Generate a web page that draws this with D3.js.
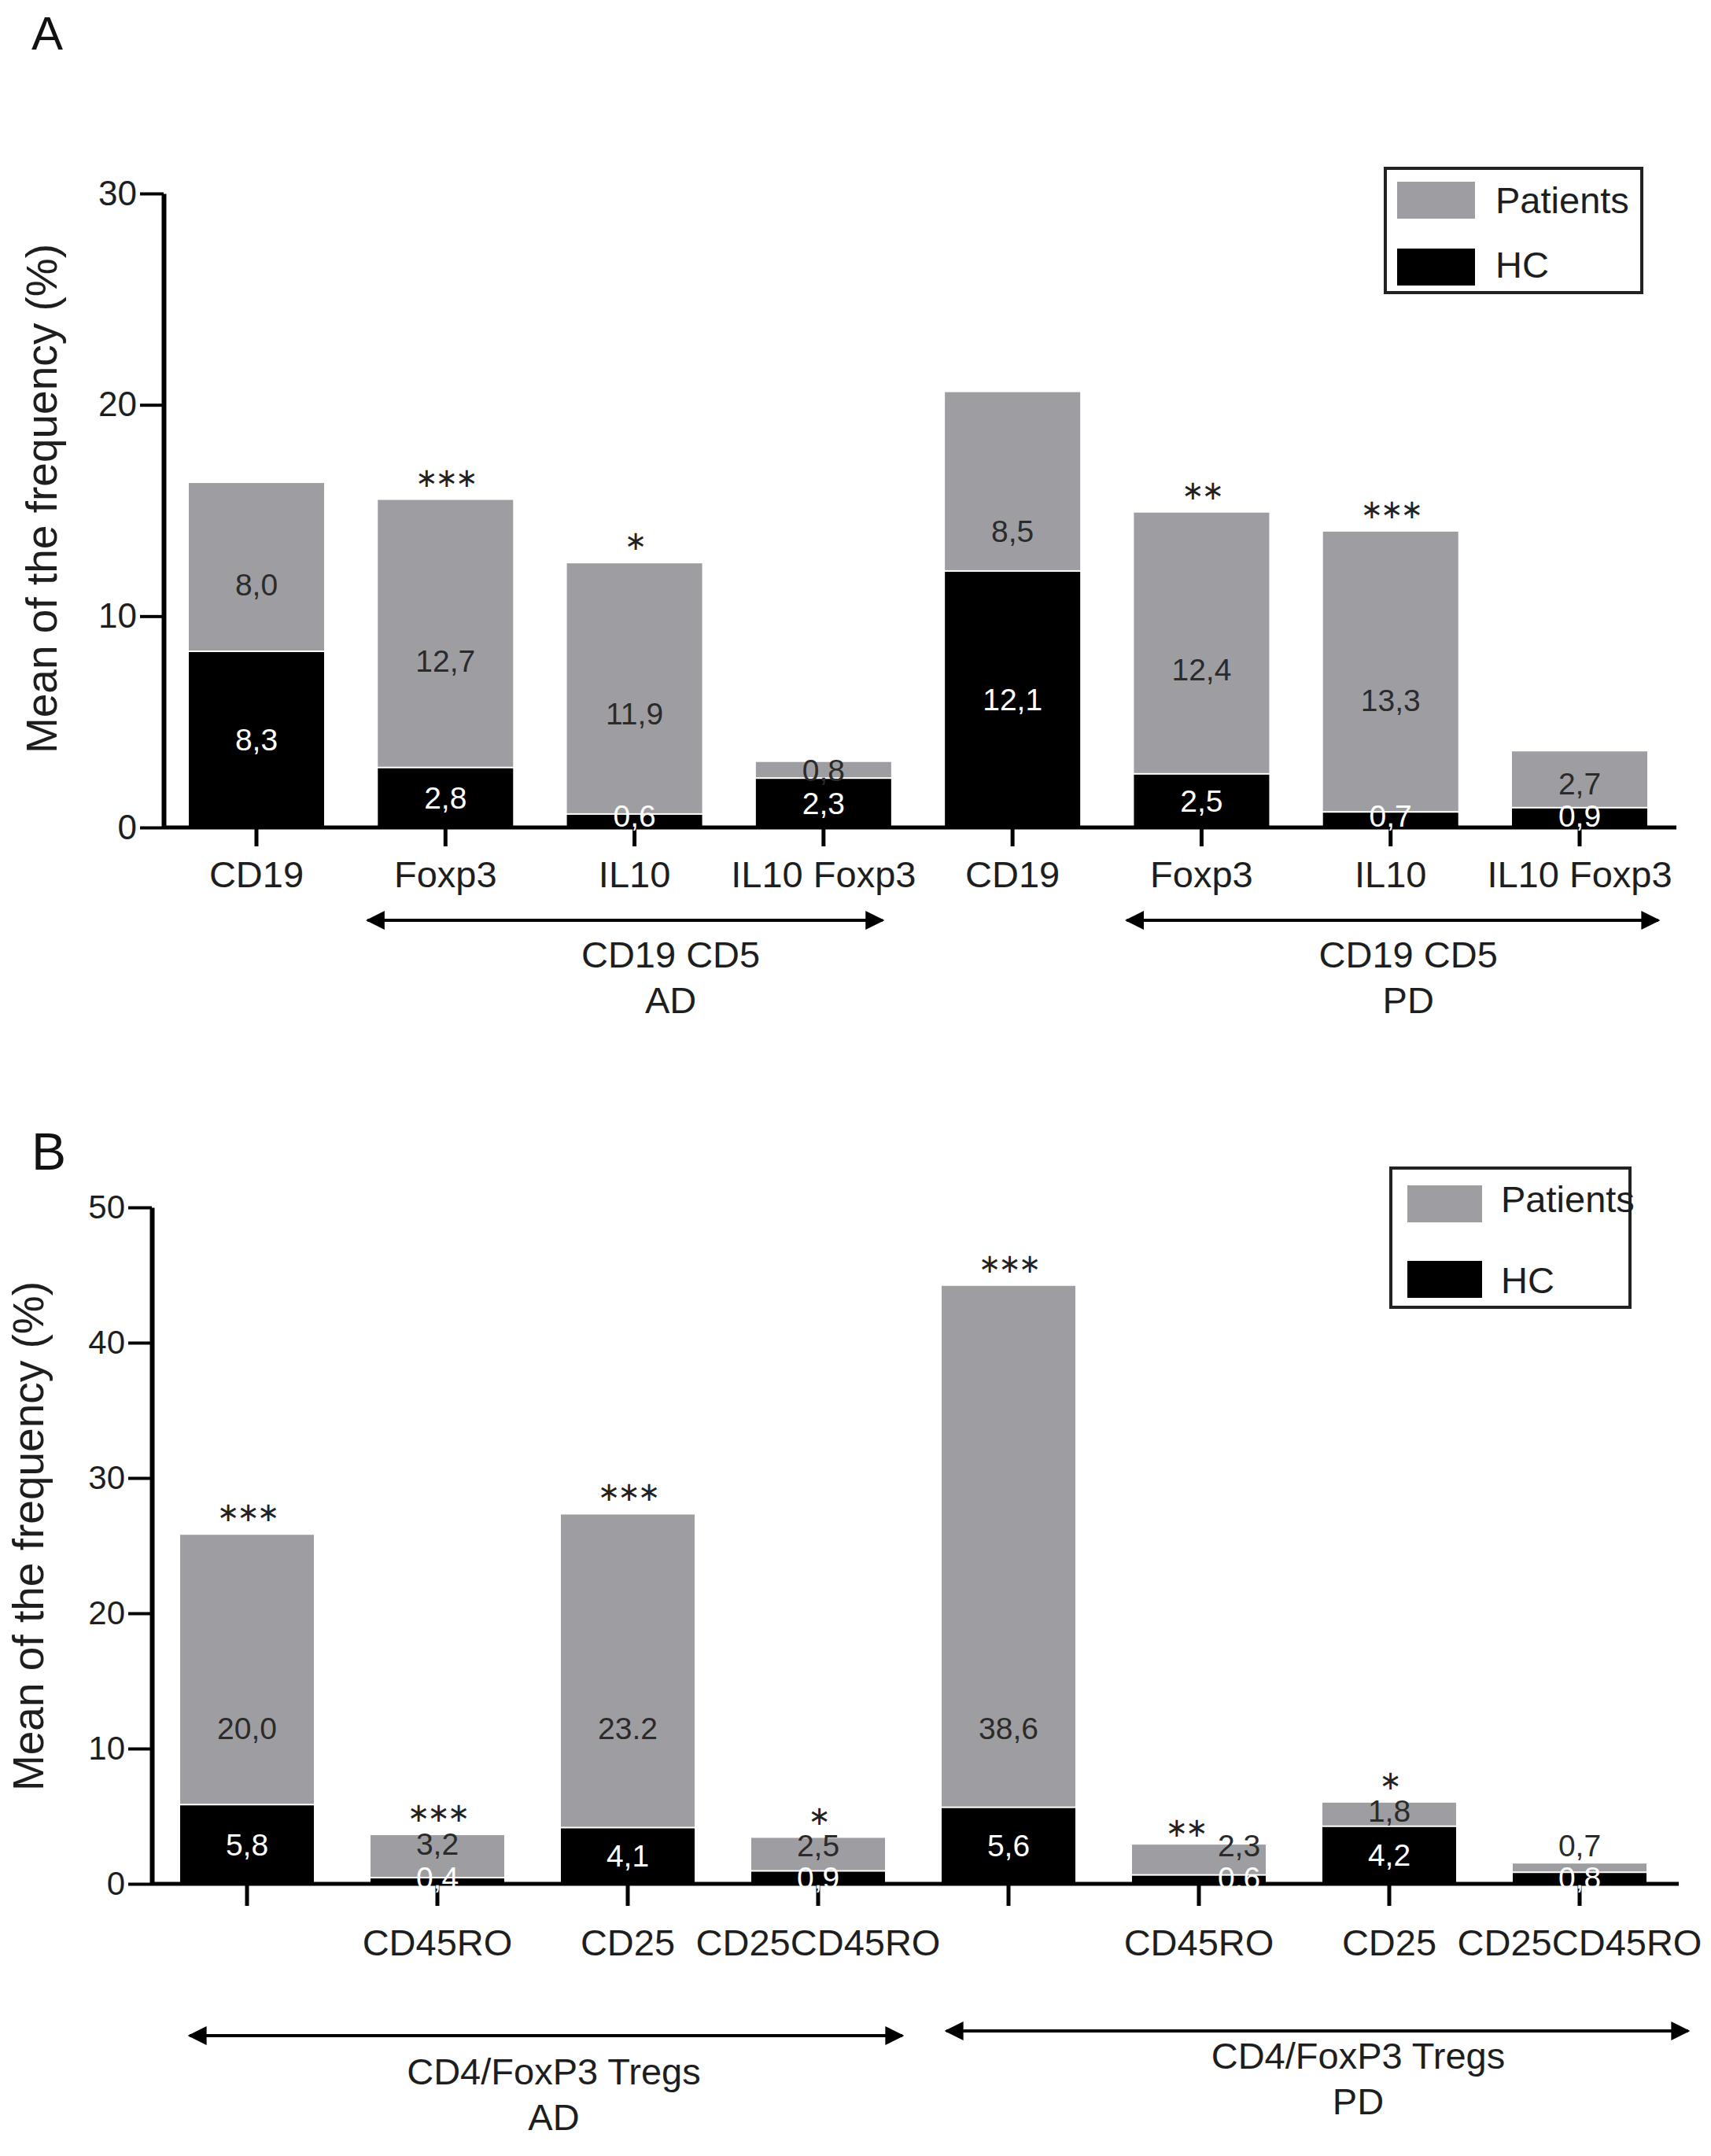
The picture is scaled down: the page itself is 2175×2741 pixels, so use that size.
<!DOCTYPE html>
<html>
<head>
<meta charset="utf-8">
<style>
  body { margin: 0; background: #fff; }
  text { font-family: "Liberation Sans", Arial, sans-serif; }
</style>
<script src="https://d3js.org/d3.v7.min.js"></script>
</head>
<body>
<svg width="2175" height="2741"></svg>
<script>

// ---- panel A data ----
var catsA = ["CD19", "Foxp3", "IL10", "IL10 Foxp3", "CD19", "Foxp3", "IL10", "IL10 Foxp3"];
var hcA = [8.3, 2.8, 0.6, 2.3, 12.1, 2.5, 0.7, 0.9];
var patA = [8.0, 12.7, 11.9, 0.8, 8.5, 12.4, 13.3, 2.7];
var patTextA = ["8,0", "12,7", "11,9", "0,8", "8,5", "12,4", "13,3", "2,7"];
var hcTextA = ["8,3", "2,8", "0,6", "2,3", "12,1", "2,5", "0,7", "0,9"];
var starsA = ["", "***", "*", "", "", "**", "***", ""];
var yTicksA = [0, 10, 20, 30];

// ---- panel B data ----
var catsB = ["", "CD45RO", "CD25", "CD25CD45RO", "", "CD45RO", "CD25", "CD25CD45RO"];
var hcB = [5.8, 0.4, 4.1, 0.9, 5.6, 0.6, 4.2, 0.8];
var patB = [20.0, 3.2, 23.2, 2.5, 38.6, 2.3, 1.8, 0.7];
var patTextB = ["20,0", "3,2", "23.2", "2,5", "38,6", "2,3", "1,8", "0,7"];
var hcTextB = ["5,8", "0,4", "4,1", "0,9", "5,6", "0,6", "4,2", "0,8"];
var starsB = ["***", "***", "***", "*", "***", "**", "*", ""];
var yTicksB = [0, 10, 20, 30, 40, 50];

var seriesNames = ["Patients", "HC"];
var grey = "#9e9ea2", black = "#000";

var svg = d3.select("svg");
svg.append("rect").attr("width", 2175).attr("height", 2741).attr("fill", "#fff");

var defs = svg.append("defs");
defs.append("marker").attr("id", "ah").attr("viewBox", "0 0 10 10")
  .attr("refX", 9).attr("refY", 5).attr("markerWidth", 6).attr("markerHeight", 7)
  .attr("markerUnits", "strokeWidth").attr("orient", "auto-start-reverse")
  .append("path").attr("d", "M0,0 L10,5 L0,10 z").attr("fill", "#000");

function drawPanel(p) {
  var g = svg.append("g");
  var n = p.cats.length;
  var step = (p.c7 - p.c0) / (n - 1);
  var x = d3.scaleBand().domain(d3.range(n))
    .range([p.c0 - step / 2, p.c7 + step / 2])
    .paddingInner(1 - p.bw / step).paddingOuter((1 - p.bw / step) / 2);
  var y = d3.scaleLinear().domain([0, p.yMax]).range([p.y0, p.yTop]);
  var bw = x.bandwidth();

  var rows = d3.range(n).map(function(i) {
    return {i: i, hc: p.hc[i], pat: p.pat[i], tot: p.hc[i] + p.pat[i]};
  });

  // label placement
  rows.forEach(function(d) {
    d.hcY = Math.min((y(0) + y(d.hc)) / 2, y(0) - p.smallLift);
    var h = y(d.hc) - y(d.tot);
    var room = d.hcY - 41;
    d.crowded = false;
    if (h >= 60) {
      d.patY = Math.min(y(Math.min(d.hc + 0.4 * d.pat, p.labelCap)), room);
    } else {
      var want = y(d.tot) + 11;
      d.crowded = want > d.hcY - 36;
      d.patY = Math.min(want, room);
    }
    d.nudge = (d.crowded && p.stars[d.i]) ? 1 : 0;
  });

  // bars: HC at bottom, patients stacked on top
  g.selectAll(".hc").data(rows).join("rect")
    .attr("x", function(d) { return x(d.i); })
    .attr("width", bw)
    .attr("y", function(d) { return y(d.hc); })
    .attr("height", function(d) { return y(0) - y(d.hc); })
    .attr("fill", black);
  g.selectAll(".pat").data(rows).join("rect")
    .attr("x", function(d) { return x(d.i); })
    .attr("width", bw)
    .attr("y", function(d) { return y(d.tot); })
    .attr("height", function(d) { return Math.max(0, y(d.hc) - y(d.tot) - 2); })
    .attr("fill", grey);

  // x axis
  g.append("line").attr("x1", p.x0).attr("x2", p.x1)
    .attr("y1", y(0)).attr("y2", y(0)).attr("stroke", "#000").attr("stroke-width", 5);
  var xa = g.append("g").attr("transform", "translate(0," + y(0) + ")")
    .call(d3.axisBottom(x).tickSize(p.tickLen).tickPadding(p.labelPad)
      .tickFormat(function(i) { return p.cats[i]; }));
  xa.select(".domain").remove();
  xa.selectAll(".tick line").attr("stroke-width", 5);
  xa.selectAll(".tick text").attr("font-size", 47).attr("fill", "#1e1e1e")
    .style("font-family", "'Liberation Sans', Arial, sans-serif");

  // value labels
  g.selectAll(".hct").data(rows).join("text")
    .attr("x", function(d) { return x(d.i) + bw / 2 + d.nudge * 0.3 * bw; })
    .attr("y", function(d) { return d.hcY; })
    .attr("text-anchor", "middle").attr("dominant-baseline", "central")
    .attr("font-size", 39).attr("fill", "#fff")
    .text(function(d) { return p.hcText[d.i]; });
  g.selectAll(".patt").data(rows).join("text")
    .attr("x", function(d) { return x(d.i) + bw / 2 + d.nudge * 0.3 * bw; })
    .attr("y", function(d) { return d.patY; })
    .attr("text-anchor", "middle").attr("dominant-baseline", "central")
    .attr("font-size", 39).attr("fill", "#2b2b2b")
    .text(function(d) { return p.patText[d.i]; });

  // significance stars
  g.selectAll(".star").data(rows.filter(function(d) { return p.stars[d.i]; })).join("text")
    .attr("x", function(d) { return x(d.i) + bw / 2 - d.nudge * 0.1 * bw; })
    .attr("y", function(d) { return y(d.tot) - (d.nudge ? 22 : 29); })
    .attr("text-anchor", "middle").attr("dominant-baseline", "central")
    .style("font-family", "'DejaVu Sans', sans-serif")
    .attr("font-size", 34).attr("letter-spacing", -3).attr("fill", "#222")
    .text(function(d) { return p.stars[d.i].replace(/\*/g, "\u2217"); });

  // y axis
  var ya = g.append("g").attr("transform", "translate(" + p.x0 + ",0)")
    .call(d3.axisLeft(y).tickValues(p.yTicks).tickSize(30).tickPadding(4).tickSizeOuter(0));
  ya.select(".domain").attr("stroke-width", 6);
  ya.selectAll(".tick line").attr("stroke-width", 4);
  ya.selectAll(".tick text").attr("font-size", p.yFont).attr("fill", "#1e1e1e")
    .style("font-family", "'Liberation Sans', Arial, sans-serif");

  g.append("text").attr("transform", "translate(" + p.titleX + "," + ((y(0) + y(p.yMax)) / 2 + p.titleShift) + ") rotate(-90)")
    .attr("text-anchor", "middle").attr("dominant-baseline", "central")
    .attr("font-size", 55).attr("fill", "#1e1e1e")
    .text("Mean of the frequency (%)");

  // panel tag
  g.append("text").attr("x", 40).attr("y", p.tagY).attr("font-size", p.tagSize)
    .attr("fill", "#111").text(p.tag);

  // group arrows and labels
  p.groups.forEach(function(gr) {
    var xa0 = x(gr.from) - gr.padL, xa1 = x(gr.to) + bw + gr.padR;
    g.append("line").attr("x1", xa0 + 6).attr("x2", xa1 - 6)
      .attr("y1", gr.arrowY).attr("y2", gr.arrowY)
      .attr("stroke", "#000").attr("stroke-width", 4)
      .attr("marker-start", "url(#ah)").attr("marker-end", "url(#ah)");
    gr.text.forEach(function(t, k) {
      g.append("text").attr("x", (xa0 + xa1) / 2 + gr.shift).attr("y", gr.textY + k * 58)
        .attr("text-anchor", "middle").attr("font-size", 47).attr("fill", "#1e1e1e").text(t);
    });
  });

  // legend
  var L = p.legend;
  var lg = g.append("g");
  lg.append("rect").attr("x", L.x).attr("y", L.y).attr("width", L.w).attr("height", L.h)
    .attr("fill", "#fff").attr("stroke", "#222").attr("stroke-width", 4);
  [grey, black].forEach(function(c, k) {
    lg.append("rect").attr("x", L.x + L.sx).attr("y", L.y + L.sy[k]).attr("width", L.sw).attr("height", L.sh)
      .attr("fill", c);
    lg.append("text").attr("x", L.x + 140).attr("y", L.y + L.ty[k])
      .attr("font-size", 47).attr("fill", "#1e1e1e").text(seriesNames[k]);
  });
}

drawPanel({
  tag: "A", tagY: 63, tagSize: 60,
  cats: catsA, hc: hcA, pat: patA, patText: patTextA, hcText: hcTextA, stars: starsA,
  yMax: 30, yTicks: yTicksA, yFont: 44, smallLift: 15, labelCap: 14,
  x0: 208, x1: 2131, y0: 1052, yTop: 246, c0: 326, c7: 2008, bw: 172,
  tickLen: 24, labelPad: 19, titleX: 53, titleShift: -15,
  groups: [
    {from: 1, to: 3, padL: 19, padR: -5, arrowY: 1170, textY: 1230, shift: 58, text: ["CD19 CD5", "AD"]},
    {from: 5, to: 7, padL: 15, padR: 20, arrowY: 1170, textY: 1230, shift: 20, text: ["CD19 CD5", "PD"]}
  ],
  legend: {x: 1761, y: 214, w: 326, h: 158, sx: 15, sy: [17, 102], sw: 99, sh: 47, ty: [57, 139]}
});

drawPanel({
  tag: "B", tagY: 1487, tagSize: 66,
  cats: catsB, hc: hcB, pat: patB, patText: patTextB, hcText: hcTextB, stars: starsB,
  yMax: 50, yTicks: yTicksB, yFont: 42, smallLift: 8, labelCap: 11.5,
  x0: 193, x1: 2134, y0: 2395, yTop: 1535, c0: 314, c7: 2008, bw: 170,
  tickLen: 28, labelPad: 30, titleX: 36, titleShift: -12,
  groups: [
    {from: 0, to: 3, padL: -6, padR: 28, arrowY: 2588, textY: 2650, shift: 10, text: ["CD4/FoxP3 Tregs", "AD"]},
    {from: 4, to: 7, padL: 0, padR: 59, arrowY: 2582, textY: 2630, shift: 52, text: ["CD4/FoxP3 Tregs", "PD"]}
  ],
  legend: {x: 1768, y: 1485, w: 304, h: 177, sx: 21, sy: [22, 118], sw: 95, sh: 47, ty: [56, 159]}
});

</script>
</body>
</html>
